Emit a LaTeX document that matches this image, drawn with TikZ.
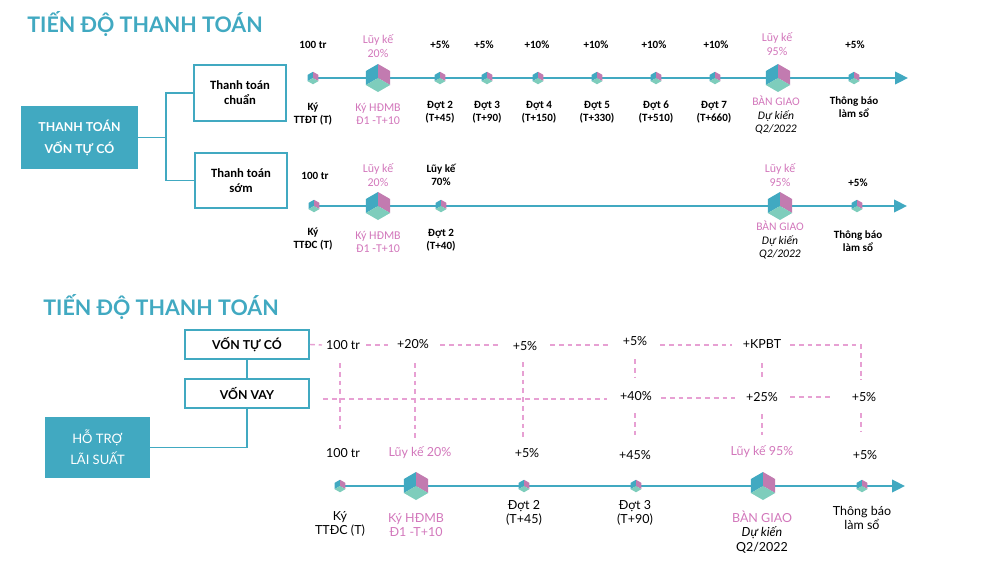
\documentclass[tikz,border=0pt]{standalone}
\usepackage{fontspec}
\setmainfont{Lato}
\newfontfamily\calib{Carlito}
\usetikzlibrary{arrows.meta}

\definecolor{teal1}{HTML}{41A9C1}
\definecolor{pinkface}{HTML}{C27BB0}
\definecolor{mint}{HTML}{7ECDBC}
\definecolor{pinktxt}{HTML}{D277BB}
\definecolor{pinkdash}{HTML}{E7A0D3}

\tikzset{
  pics/cube/.style={code={
    \fill[teal1] (0,0) -- (90:#1) -- (150:#1) -- (210:#1) -- cycle;
    \fill[pinkface] (0,0) -- (90:#1) -- (30:#1) -- (-30:#1) -- cycle;
    \fill[mint] (0,0) -- (210:#1) -- (270:#1) -- (330:#1) -- cycle;
  }}
}

\begin{document}
\begin{tikzpicture}[x=0.02cm, y=-0.02cm,
  title/.style={font=\bfseries\fontsize{12.2}{14}\selectfont, text=teal1, inner sep=0pt},
  up/.style={font=\calib\bfseries\fontsize{6.3}{7.6}\selectfont, align=center, inner sep=0pt},
  upp/.style={font=\calib\fontsize{6.8}{7.6}\selectfont, text=pinktxt, align=center, inner sep=0pt},
  lo/.style={font=\fontsize{7.1}{8.4}\selectfont, align=center, inner sep=0pt},
  wbox/.style={draw=teal1, line width=1.1pt, fill=white, align=center, inner sep=0pt},
  fbox/.style={fill=teal1, text=white, align=center, inner sep=0pt,
    font=\bfseries\fontsize{7}{12.5}\selectfont},
  conn/.style={teal1, line width=1.1pt},
  tline/.style={teal1, line width=1.4pt, -{Triangle[length=0.26cm, width=0.25cm]}},
  pdash/.style={pinkdash, line width=0.8pt, dash pattern=on 2.8pt off 2.2pt}
]
\useasboundingbox (0,0) rectangle (994,569);

% ---- part 1
\node[title, anchor=west] (t1) at (27,24) {TIẾN ĐỘ THANH TOÁN};

\node[fbox, minimum width=2.34cm, minimum height=1.26cm] (tt) at (79.5,137.5) {THANH TOÁN\\VỐN TỰ CÓ};
\node[wbox, minimum width=1.84cm, minimum height=1.12cm, font=\calib\bfseries\fontsize{7.2}{8.6}\selectfont] (ttc) at (240,93) {Thanh toán\\chuẩn};
\node[wbox, minimum width=1.84cm, minimum height=1.10cm, font=\calib\bfseries\fontsize{7.2}{8.6}\selectfont] (tts) at (241,180.5) {Thanh toán\\sớm};
\draw[conn] (ttc.west) -- ++(-27,0) |- (tt.east);
\draw[conn] (tts.west) -- ++(-28,0) |- (tt.east);

% standard payment
\coordinate (a0) at (313,78);
\coordinate (a1) at (908,78);
\draw[tline] (a0) -- (a1);
\foreach \x in {313,440,487,538,597,656,715,854}
  \pic at (\x,78) {cube=0.125cm};
\foreach \x in {378,778}
  \pic at (\x,78) {cube=0.28cm};

\node[up] (a-100) at (313,45) {100 tr};
\node[upp] (a-20) at (378,46) {Lũy kế\\20\%};
\foreach \x/\t in {440/+5\%, 484/+5\%, 537/+10\%, 596/+10\%, 654/+10\%, 716/+10\%, 855/+5\%}
  \node[up] (a-top-\x) at (\x,45) {\t};
\node[upp] (a-95) at (777,44) {Lũy kế\\95\%};

\node[up] (a-ky) at (313,114) {Ký\\TTĐT (T)};
\node[upp] (a-hd) at (378,114) {Ký HĐMB\\Đ1 -T+10};
\foreach \x/\n/\t in {440/2/45, 487/3/90, 539/4/150, 597/5/330, 656/6/510, 714/7/660}
  \node[up] (a-dot-\n) at (\x,112) {Đợt \n\\(T+\t)};
\node[up, font=\calib\fontsize{6.6}{7.7}\selectfont] (a-bg) at (776,115) {{\color{pinktxt}BÀN GIAO}\\\textit{Dự kiến}\\\textit{Q2/2022}};
\node[up] (a-tb) at (854,107) {Thông báo\\làm sổ};

% early payment
\coordinate (b0) at (314,206);
\coordinate (b1) at (907,206);
\draw[tline] (b0) -- (b1);
\foreach \x in {314,441,857}
  \pic at (\x,206) {cube=0.125cm};
\foreach \x in {378,780}
  \pic at (\x,206) {cube=0.28cm};

\node[up] (b-100) at (315,176) {100 tr};
\node[upp] (b-20) at (378,175) {Lũy kế\\20\%};
\node[up] (b-70) at (441,175) {Lũy kế\\70\%};
\node[upp] (b-95) at (780,175) {Lũy kế\\95\%};
\node[up] (b-5) at (858,183) {+5\%};

\node[up] (b-ky) at (313,239) {Ký\\TTĐC (T)};
\node[upp] (b-hd) at (378,242) {Ký HĐMB\\Đ1 -T+10};
\node[up] (b-dot) at (441,240) {Đợt 2\\(T+40)};
\node[up, font=\calib\fontsize{6.6}{7.7}\selectfont] (b-bg) at (780,240) {{\color{pinktxt}BÀN GIAO}\\\textit{Dự kiến}\\\textit{Q2/2022}};
\node[up] (b-tb) at (858,241) {Thông báo\\làm sổ};

% ---- part 2
\node[title, anchor=west] (t2) at (43,307) {TIẾN ĐỘ THANH TOÁN};

\node[wbox, minimum width=2.48cm, minimum height=0.58cm, font=\bfseries\fontsize{7}{9}\selectfont] (vtc) at (247,344.5) {VỐN TỰ CÓ};
\node[wbox, minimum width=2.48cm, minimum height=0.58cm, font=\bfseries\fontsize{7}{9}\selectfont] (vv) at (247,393.5) {VỐN VAY};
\node[fbox, minimum width=2.10cm, minimum height=1.22cm, font=\fontsize{7.4}{12}\selectfont] (hl) at (97.5,447.5) {HỖ TRỢ\\LÃI SUẤT};
\draw[conn] (vtc) -- (vv);
\draw[conn] (vv.south) |- (hl.east);

% dashed grid
\draw[pdash] (vtc.east) -- (322,345);
\draw[pdash] (366,345) -- (388,345);
\draw[pdash] (440,345) -- (500,345);
\draw[pdash] (550,345) -- (610,345);
\draw[pdash] (660,345) -- (732,345);
\draw[pdash] (790,345) -- (861,345) -- (861,380);
\draw[pdash] (323,399) -- (607,399);
\draw[pdash] (661,398) -- (735,398);
\draw[pdash] (790,397) -- (833,397);
\draw[pdash] (340,363) -- (340,432);
\draw[pdash] (415,363) -- (415,438);
\draw[pdash] (523,362) -- (523,438);
\draw[pdash] (635,359) -- (635,378);
\draw[pdash] (635,413) -- (635,435);
\draw[pdash] (762,363) -- (762,378);
\draw[pdash] (762,414) -- (762,435);
\draw[pdash] (861,413) -- (861,432);

\node[lo] (c-100) at (343,345) {100 tr};
\node[lo] (c-20) at (413,344) {+20\%};
\node[lo] (c-5a) at (525,346) {+5\%};
\node[lo] (c-5b) at (635,341) {+5\%};
\node[lo] (c-kp) at (762,344) {+KPBT};
\node[lo] (d-40) at (636,396) {+40\%};
\node[lo] (d-25) at (762,397) {+25\%};
\node[lo] (d-5) at (864,397) {+5\%};

% loan timeline
\node[lo] (e-100) at (343,453) {100 tr};
\node[lo, text=pinktxt] (e-20) at (420,453) {Lũy kế 20\%};
\node[lo] (e-5a) at (527,453) {+5\%};
\node[lo] (e-45) at (635,455) {+45\%};
\node[lo, text=pinktxt] (e-95) at (762,452) {Lũy kế 95\%};
\node[lo] (e-5b) at (865,455) {+5\%};

\coordinate (e0) at (340,486);
\coordinate (e1) at (905,486);
\draw[tline] (e0) -- (e1);
\foreach \x in {340,524,636,862}
  \pic at (\x,486) {cube=0.125cm};
\foreach \x in {416,763}
  \pic at (\x,486) {cube=0.28cm};

\node[lo] (e-ky) at (340,524) {Ký\\TTĐC (T)};
\node[lo, text=pinktxt] (e-hd) at (416,525) {Ký HĐMB\\Đ1 -T+10};
\node[lo] (e-dot2) at (524,513) {Đợt 2\\(T+45)};
\node[lo] (e-dot3) at (635,513) {Đợt 3\\(T+90)};
\node[lo] (e-bg) at (762,532) {{\color{pinktxt}BÀN GIAO}\\\textit{Dự kiến}\\Q2/2022};
\node[lo] (e-tb) at (862,518) {Thông báo\\làm sổ};

\end{tikzpicture}
\end{document}
